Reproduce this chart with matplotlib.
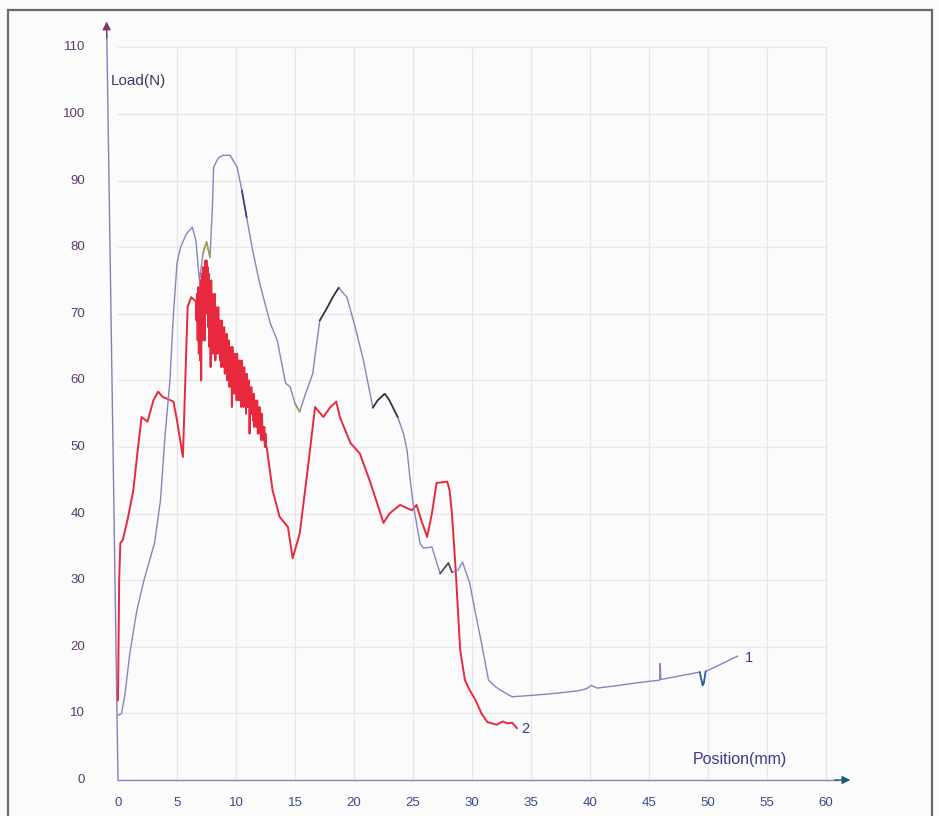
import numpy as np
import matplotlib
matplotlib.use("Agg")
import matplotlib.pyplot as plt
from matplotlib.patches import Rectangle

plt.rcParams['font.family'] = ['Liberation Sans', 'DejaVu Sans']

# curve 1 (blue)
blue_x = [0.0, 0.3, 0.6, 1.0, 1.6, 2.2, 3.1, 3.6, 4.0, 4.4, 4.7, 5.0, 5.3, 5.8, 6.3, 6.6, 6.9,
          7.2, 7.5, 7.8, 8.0, 8.1, 8.5, 8.9, 9.5, 10.1, 10.5, 10.9, 11.4, 12.0, 12.9, 13.5, 14.2,
          14.6, 15.0, 15.4, 15.8, 16.5, 17.1, 17.6, 18.2, 18.7, 19.4, 20.1, 20.8, 21.6, 22.0,
          22.6, 23.0, 23.7, 24.2, 24.5, 24.7, 25.0, 25.6, 25.9, 26.6, 27.3, 28.0, 28.3, 28.8,
          29.2, 29.8, 30.3, 30.7, 31.4, 32.0, 32.4, 33.4, 35.0, 37.0, 39.0, 39.7, 40.1, 40.6,
          42.0, 44.0, 45.9, 45.95, 46.0, 47.5, 49.3, 49.55, 49.65, 49.8, 51.0, 52.5]
blue_y = [9.7, 10.0, 13.0, 19.0, 25.5, 30.0, 35.6, 42.0, 52.0, 60.0, 70.0, 77.6, 80.0, 82.0, 83.0,
          81.0, 75.0, 79.0, 80.8, 78.5, 86.0, 92.0, 93.4, 93.8, 93.8, 92.0, 88.5, 84.5, 79.6, 74.6,
          68.6, 66.0, 59.6, 59.0, 56.5, 55.3, 57.5, 61.0, 69.0, 70.5, 72.5, 73.9, 72.5, 68.0, 63.0,
          55.9, 57.0, 58.0, 57.0, 54.5, 52.0, 49.5, 46.0, 41.6, 35.5, 34.8, 35.0, 31.0, 32.6, 31.2,
          31.5, 32.7, 29.6, 25.0, 21.5, 15.0, 14.0, 13.5, 12.5, 12.7, 13.0, 13.4, 13.7, 14.2, 13.8,
          14.1, 14.6, 15.0, 17.5, 15.1, 15.6, 16.2, 14.2, 14.6, 16.3, 17.3, 18.6]

# curve 2 (red)
red_start_x = [0.0, 0.1, 0.2, 0.4, 0.8, 1.3, 1.7, 2.0, 2.5, 3.0, 3.4, 3.8, 4.1, 4.7, 5.0, 5.5,
               5.7, 5.9, 6.2, 6.5]
red_start_y = [12.0, 30.0, 35.6, 36.0, 39.0, 43.5, 50.0, 54.5, 53.8, 57.0, 58.3, 57.5, 57.3,
               56.8, 54.0, 48.5, 60.0, 71.0, 72.5, 72.0]
# jagged part between about 6.6 and 12.5 mm (high/low pairs every 0.1 mm)
red_noise_y = [72, 69, 73, 66, 74, 64, 73, 63, 75, 60, 76, 66, 77, 68, 75, 66, 78, 70, 78, 71,
               77, 68, 76, 65, 74, 62, 75, 67, 73, 64, 72, 65, 73, 63, 71, 64, 70, 66, 71, 64,
               69, 63, 68, 62, 69, 64, 67, 62, 68, 61, 66, 62, 67, 60, 65, 61, 66, 59, 64, 61,
               65, 56, 65, 59, 63, 58, 64, 60, 63, 57, 64, 58, 62, 57, 63, 59, 62, 56, 63, 57,
               61, 56, 62, 58, 60, 55, 61, 56, 59, 56, 60, 52, 58, 55, 59, 55, 57, 54, 58, 53,
               57, 55, 56, 53, 57, 52, 55, 53, 56, 52, 54, 51, 55, 52, 53, 51, 53, 50, 52, 50]
red_noise_x = list(np.round(6.6 + 0.05 * np.arange(len(red_noise_y)), 2))
red_end_x = [12.6, 13.1, 13.7, 14.4, 14.8, 15.4, 16.1, 16.7, 17.4, 18.0, 18.5, 18.8, 19.7, 20.5,
             21.4, 22.5, 23.0, 23.9, 24.9, 25.3, 25.7, 26.2, 26.6, 27.0, 27.9, 28.1, 28.3, 28.6,
             29.0, 29.4, 29.8, 30.3, 30.8, 31.3, 32.1, 32.6, 33.0, 33.4, 33.8]
red_end_y = [50.0, 43.5, 39.5, 38.0, 33.3, 37.0, 47.0, 56.0, 54.5, 56.0, 56.8, 54.5, 50.6, 49.0,
             44.6, 38.6, 40.0, 41.3, 40.5, 41.3, 39.0, 36.5, 40.0, 44.6, 44.8, 43.5, 40.0, 32.0,
             19.5, 15.0, 13.5, 12.0, 10.0, 8.7, 8.3, 8.8, 8.5, 8.6, 7.8]

red_x = red_start_x + red_noise_x + red_end_x
red_y = red_start_y + red_noise_y + red_end_y

xticks = list(range(0, 61, 5))
yticks = list(range(0, 111, 10))

fig = plt.figure(figsize=(9.39, 8.16), dpi=100)
fig.patch.set_facecolor('#fbfbfb')
# scan frame
fig.patches.append(Rectangle((8 / 939, -0.05), 924 / 939, 1.05 - 10 / 816, transform=fig.transFigure,
                             fill=False, edgecolor='#6a6a6a', linewidth=1.6))

ax = fig.add_axes([47.2 / 939, 1 - 800 / 816, (861.4 - 47.2) / 939, (800 - 7.4) / 816])
ax.set_xlim(-6, 63)
ax.set_ylim(-3, 116)
ax.axis('off')

# grid
for v in xticks[1:]:
    ax.plot([v, v], [0, 110], color='#e6e6ec', lw=0.9, zorder=1)
for v in yticks[1:]:
    ax.plot([0, 60], [v, v], color='#e6e6ec', lw=0.9, zorder=1)

# axes with arrows
ax.plot([0, -0.95], [0, 112], color='#8a7ab8', lw=1.0, zorder=2)
ax.annotate('', xy=(-0.97, 114.3), xytext=(-0.95, 111),
            arrowprops=dict(arrowstyle='-|>', color='#7a3a6a', lw=1.0, mutation_scale=12))
ax.plot([0, 61], [0, 0], color='#9a7ac8', lw=1.0, zorder=2)
ax.annotate('', xy=(62.3, 0), xytext=(60.5, 0),
            arrowprops=dict(arrowstyle='-|>', color='#1a5a7a', lw=1.0, mutation_scale=12))

for v in xticks:
    ax.text(v, -3.4, str(v), ha='center', va='center', fontsize=9.5, color='#3a4a8a')
for v in yticks:
    ax.text(-2.8, v, str(v), ha='right', va='center', fontsize=9.5, color='#5a3a6a')

ax.text(-0.6, 105, 'Load(N)', ha='left', va='center', fontsize=11, color='#3a3a6a')
ax.text(48.7, 3.1, 'Position(mm)', ha='left', va='center', fontsize=11.5, color='#3a3a8a')

# curves
ax.plot(red_x, red_y, color='#e8283c', lw=1.4, zorder=3)
ax.plot(blue_x, blue_y, color='#8585bd', lw=1.0, zorder=4)

# off-colour bits of curve 1
bx = np.array(blue_x)
by = np.array(blue_y)
for lo, hi, c in [(7.1, 7.9, '#a8a040'), (10.4, 11.1, '#3a3a7a'), (11.8, 12.1, '#d04050'),
                  (14.9, 15.5, '#9aa040'), (16.9, 19.0, '#303040'), (21.6, 23.8, '#303040'),
                  (27.3, 28.3, '#505060'), (49.3, 49.8, '#2a5aa0')]:
    m = (bx >= lo) & (bx <= hi)
    ax.plot(bx[m], by[m], color=c, lw=1.2, zorder=5)

ax.text(53.1, 18.3, '1', ha='left', va='center', fontsize=10.5, color='#3a3a8a')
ax.text(34.2, 7.6, '2', ha='left', va='center', fontsize=10.5, color='#3a3a8a')

fig.savefig('out.png', dpi=100, facecolor=fig.get_facecolor())
